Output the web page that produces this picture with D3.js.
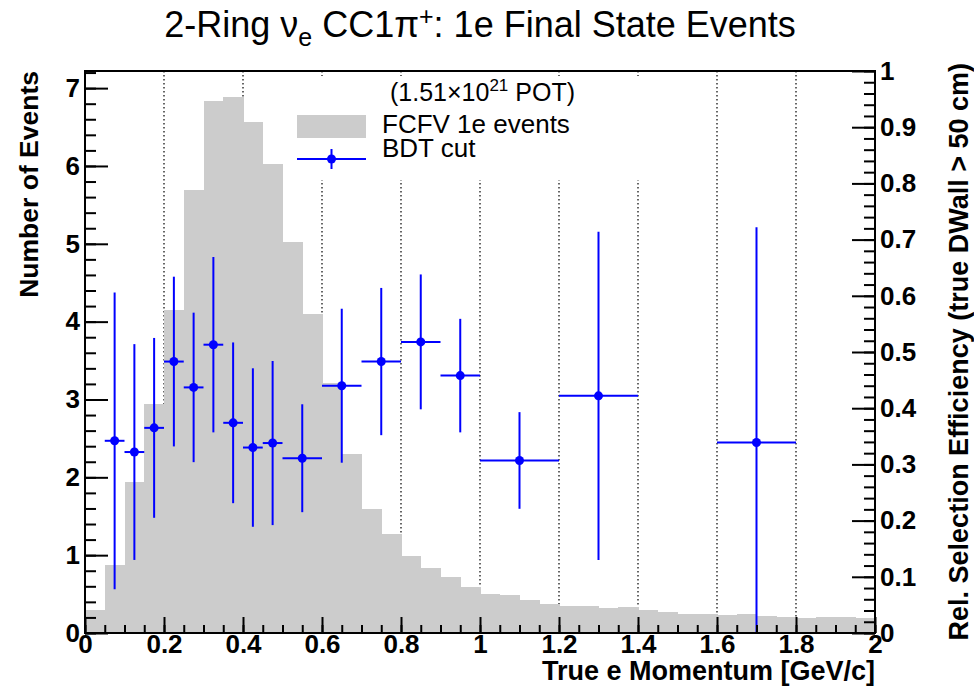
<!DOCTYPE html>
<html>
<head>
<meta charset="utf-8">
<script src="https://cdn.jsdelivr.net/npm/d3@7.9.0/dist/d3.min.js"></script>
<style>
  body { margin: 0; background: #fff; }
  svg { display: block; font-family: "Liberation Sans", Arial, Helvetica, sans-serif; }
  .tick text { font-weight: bold; font-size: 26px; fill: #000; }
</style>
</head>
<body>
<svg id="chart" width="974" height="694"></svg>
<script>
// FCFV 1e events histogram (0.05 GeV/c bins, left axis)
const histEdges = [0, 0.05, 0.1, 0.15, 0.2, 0.25, 0.3, 0.35, 0.4, 0.45, 0.5,
  0.55, 0.6, 0.65, 0.7, 0.75, 0.8, 0.85, 0.9, 0.95, 1.0,
  1.05, 1.1, 1.15, 1.2, 1.25, 1.3, 1.35, 1.4, 1.45, 1.5,
  1.55, 1.6, 1.65, 1.7, 1.75, 1.8, 1.85, 1.9, 1.95, 2.0];
const histCounts = [0.29, 0.87, 1.94, 2.94, 4.15, 5.69, 6.83, 6.88, 6.56, 6.02,
  5.02, 4.10, 3.21, 2.30, 1.59, 1.27, 0.99, 0.83, 0.72, 0.59,
  0.50, 0.49, 0.43, 0.37, 0.35, 0.35, 0.32, 0.33, 0.30, 0.27,
  0.245, 0.25, 0.23, 0.25, 0.22, 0.21, 0.19, 0.205, 0.20, 0.19];

// BDT cut relative efficiency (right axis), variable bins
const effLow  = [0.05, 0.1, 0.15, 0.2, 0.25, 0.3, 0.35, 0.4, 0.45, 0.5, 0.6, 0.7, 0.8, 0.9, 1.0, 1.2, 1.6];
const effHigh = [0.1, 0.15, 0.2, 0.25, 0.3, 0.35, 0.4, 0.45, 0.5, 0.6, 0.7, 0.8, 0.9, 1.0, 1.2, 1.4, 1.8];
const effVal  = [0.342, 0.322, 0.365, 0.483, 0.437, 0.513, 0.374, 0.330, 0.338, 0.311,
  0.440, 0.483, 0.518, 0.458, 0.307, 0.422, 0.339];
const effErr  = [0.264, 0.192, 0.160, 0.151, 0.133, 0.156, 0.143, 0.141, 0.146, 0.096,
  0.137, 0.131, 0.120, 0.101, 0.086, 0.292, 0.383];

const xTicks = [0, 0.2, 0.4, 0.6, 0.8, 1, 1.2, 1.4, 1.6, 1.8, 2];
const yLeftTicks = [0, 1, 2, 3, 4, 5, 6, 7];
const yRightTicks = [0, 0.1, 0.2, 0.3, 0.4, 0.5, 0.6, 0.7, 0.8, 0.9, 1];
const yLeftMax = 7.22;

const svg = d3.select('#chart');
const frame = { left: 85, right: 875, top: 71, bottom: 633 };

const x = d3.scaleLinear().domain([0, 2]).range([frame.left, frame.right]);
const yL = d3.scaleLinear().domain([0, yLeftMax]).range([frame.bottom, frame.top]);
const yR = d3.scaleLinear().domain([0, 1]).range([frame.bottom, frame.top]);

// vertical dotted grid (behind the histogram)
svg.append('g')
  .selectAll('line')
  .data(xTicks.slice(1, -1))
  .join('line')
  .attr('x1', d => x(d)).attr('x2', d => x(d))
  .attr('y1', frame.top).attr('y2', frame.bottom)
  .attr('stroke', '#000')
  .attr('stroke-width', 1.2)
  .attr('stroke-dasharray', '1.5,2.5');

// histogram
svg.append('g')
  .selectAll('rect')
  .data(histCounts)
  .join('rect')
  .attr('x', (d, i) => x(histEdges[i]))
  .attr('width', (d, i) => x(histEdges[i + 1]) - x(histEdges[i]) + 0.5)
  .attr('y', d => yL(d))
  .attr('height', d => frame.bottom - yL(d))
  .attr('fill', '#cccccc')
  .attr('shape-rendering', 'crispEdges');

// legend area (white fill hides grid lines)
svg.append('rect').attr('x', 292).attr('y', 76).attr('width', 370).attr('height', 104).attr('fill', '#fff');
svg.append('rect').attr('x', 420).attr('y', frame.top).attr('width', 120).attr('height', 30).attr('fill', '#fff');

const leg = svg.append('g');
leg.append('rect').attr('x', 297).attr('y', 115).attr('width', 69).attr('height', 23).attr('fill', '#cccccc');
leg.append('line').attr('x1', 297).attr('x2', 366).attr('y1', 159).attr('y2', 159)
  .attr('stroke', 'blue').attr('stroke-width', 2);
leg.append('line').attr('x1', 331.5).attr('x2', 331.5).attr('y1', 149).attr('y2', 169)
  .attr('stroke', 'blue').attr('stroke-width', 2);
leg.append('circle').attr('cx', 331.5).attr('cy', 159).attr('r', 4.5).attr('fill', 'blue');
leg.append('text').attr('x', 382).attr('y', 133).attr('font-size', 26).text('FCFV 1e events');
leg.append('text').attr('x', 382).attr('y', 157).attr('font-size', 26).text('BDT cut');

const pot = leg.append('text').attr('x', 390).attr('y', 101).attr('font-size', 25);
pot.append('tspan').text('(1.51\u00d710');
pot.append('tspan').attr('font-size', 17).attr('dy', -10).text('21');
pot.append('tspan').attr('dy', 10).text(' POT)');

// efficiency points
const pts = svg.append('g');
effVal.forEach((v, i) => {
  const cx = x((effLow[i] + effHigh[i]) / 2);
  const cy = yR(v);
  pts.append('line')
    .attr('x1', x(effLow[i])).attr('x2', x(effHigh[i]))
    .attr('y1', cy).attr('y2', cy)
    .attr('stroke', 'blue').attr('stroke-width', 2);
  pts.append('line')
    .attr('x1', cx).attr('x2', cx)
    .attr('y1', yR(Math.min(1, v + effErr[i]))).attr('y2', yR(Math.max(0, v - effErr[i])))
    .attr('stroke', 'blue').attr('stroke-width', 2);
  pts.append('circle').attr('cx', cx).attr('cy', cy).attr('r', 4.5).attr('fill', 'blue');
});

// axes
const minorX = d3.range(0, 2.001, 0.05);
const minorL = d3.range(0, yLeftMax, 0.2);
const minorR = d3.range(0, 1.001, 0.02);

svg.append('g')
  .attr('transform', `translate(0,${frame.bottom})`)
  .call(d3.axisBottom(x).tickValues(minorX).tickSize(-8).tickFormat(''))
  .call(g => g.select('.domain').remove());
svg.append('g')
  .attr('transform', `translate(0,${frame.bottom})`)
  .call(d3.axisBottom(x).tickValues(xTicks).tickSize(-16).tickPadding(2).tickFormat(d3.format('')))
  .call(g => g.select('.domain').remove());

svg.append('g')
  .attr('transform', `translate(${frame.left},0)`)
  .call(d3.axisLeft(yL).tickValues(minorL).tickSize(-11).tickFormat(''))
  .call(g => g.select('.domain').remove());
svg.append('g')
  .attr('transform', `translate(${frame.left},0)`)
  .call(d3.axisLeft(yL).tickValues(yLeftTicks).tickSize(-23).tickPadding(5).tickFormat(d3.format('d')))
  .call(g => g.select('.domain').remove());

svg.append('g')
  .attr('transform', `translate(${frame.right},0)`)
  .call(d3.axisRight(yR).tickValues(minorR).tickSize(-11).tickFormat(''))
  .call(g => g.select('.domain').remove());
svg.append('g')
  .attr('transform', `translate(${frame.right},0)`)
  .call(d3.axisRight(yR).tickValues(yRightTicks).tickSize(-23).tickPadding(5).tickFormat(d3.format('')))
  .call(g => g.select('.domain').remove());

svg.selectAll('.tick line').attr('stroke', '#000').attr('stroke-width', 2);

// frame
svg.append('rect')
  .attr('x', frame.left).attr('y', frame.top)
  .attr('width', frame.right - frame.left).attr('height', frame.bottom - frame.top)
  .attr('fill', 'none').attr('stroke', '#000').attr('stroke-width', 2);

// titles
const title = svg.append('text').attr('x', 480).attr('y', 37).attr('text-anchor', 'middle').attr('font-size', 36);
title.append('tspan').text('2-Ring \u03bd');
title.append('tspan').attr('font-size', 25).attr('dy', 9).text('e');
title.append('tspan').attr('dy', -9).text(' CC1\u03c0');
title.append('tspan').attr('font-size', 25).attr('dy', -12).text('+');
title.append('tspan').attr('dy', 12).text(': 1e Final State Events');

svg.append('text')
  .attr('x', frame.right).attr('y', 680)
  .attr('text-anchor', 'end').attr('font-weight', 'bold').attr('font-size', 27)
  .text('True e Momentum [GeV/c]');

svg.append('text')
  .attr('transform', `translate(38,${frame.top}) rotate(-90)`)
  .attr('text-anchor', 'end').attr('font-weight', 'bold').attr('font-size', 26.5)
  .text('Number of Events');

svg.append('text')
  .attr('transform', `translate(968,${frame.top - 8}) rotate(-90)`)
  .attr('text-anchor', 'end').attr('font-weight', 'bold').attr('font-size', 27)
  .text('Rel. Selection Efficiency (true DWall > 50 cm)');
</script>
</body>
</html>
